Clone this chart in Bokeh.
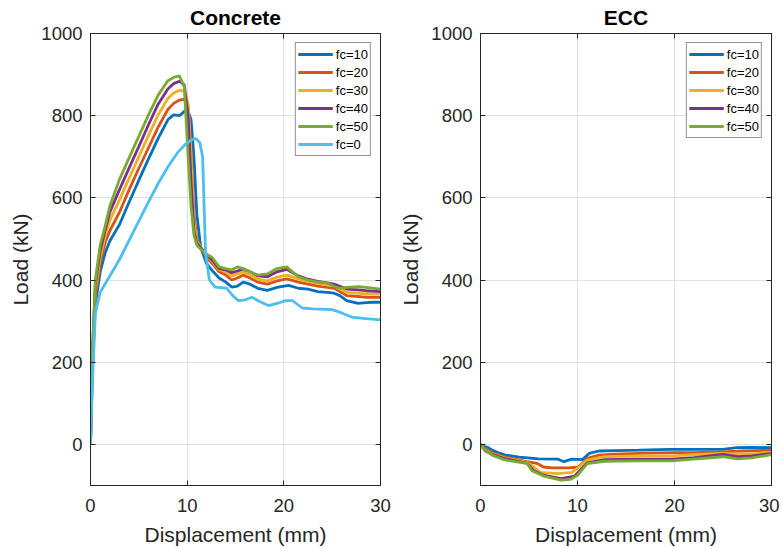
from bokeh.plotting import figure
from bokeh.layouts import row
from bokeh.models import Range1d, LinearAxis, FixedTicker, Legend
from bokeh.embed import file_html
from bokeh.resources import INLINE

# ---------------- data: Concrete ----------------
conc_labels = ["fc=10", "fc=20", "fc=30", "fc=40", "fc=50", "fc=0"]

x_c10 = [0, 0.2, 0.5, 1, 1.5, 2, 3, 4, 5, 6, 7, 8, 8.6, 9.2, 9.6, 10.0, 10.4, 10.7, 11.0, 11.4, 12.0, 12.6, 13.3, 14.0, 14.6, 15.2, 15.8, 16.5, 17.3, 18.3, 19.3, 20.5, 21.5, 22.5, 23.5, 24.5, 25.2, 25.8, 26.5, 27.7, 28.5, 29.2, 30]
y_c10 = [0, 180, 340, 420, 465, 495, 535, 590, 643, 695, 745, 790, 802, 800, 808, 818, 790, 700, 560, 480, 440, 423, 405, 395, 383, 385, 395, 390, 380, 375, 382, 387, 380, 378, 372, 370, 368, 362, 350, 343, 345, 346, 346]

x_c20 = [0, 0.2, 0.5, 1, 1.5, 2, 3, 4, 5, 6, 7, 8, 8.6, 9.2, 9.7, 10.1, 10.4, 10.7, 11.0, 11.4, 12.0, 12.6, 13.3, 14.0, 14.6, 15.2, 15.8, 16.5, 17.3, 18.3, 19.3, 20.3, 21.5, 22.5, 23.5, 24.5, 25.2, 25.8, 26.5, 27.7, 28.5, 29.2, 30]
y_c20 = [0, 200, 360, 440, 490, 520, 565, 620, 672, 722, 772, 815, 830, 838, 840, 820, 720, 560, 500, 480, 455, 440, 420, 412, 400, 405, 412, 405, 395, 390, 398, 403, 395, 390, 385, 382, 380, 372, 362, 360, 358, 358, 358]

x_c30 = [0, 0.2, 0.5, 1, 1.5, 2, 3, 4, 5, 6, 7, 8, 8.6, 9.2, 9.7, 10.1, 10.4, 10.7, 11.0, 11.4, 12.0, 12.6, 13.3, 14.0, 14.6, 15.2, 15.8, 16.5, 17.3, 18.3, 19.3, 20.3, 21.5, 22.5, 23.5, 24.5, 25.2, 25.8, 26.5, 27.7, 28.5, 29.2, 30]
y_c30 = [0, 210, 375, 455, 505, 545, 595, 648, 700, 752, 802, 842, 855, 862, 860, 830, 700, 540, 495, 480, 460, 445, 425, 420, 410, 415, 420, 412, 402, 398, 407, 412, 403, 397, 392, 388, 386, 378, 370, 368, 366, 366, 366]

x_c40 = [0, 0.2, 0.5, 1, 1.5, 2, 3, 4, 5, 6, 7, 8, 8.6, 9.2, 9.7, 10.1, 10.4, 10.7, 11.0, 11.4, 12.0, 12.6, 13.3, 14.0, 14.6, 15.2, 15.8, 16.5, 17.3, 18.3, 19.3, 20.3, 21.5, 22.5, 23.5, 24.5, 25.2, 25.8, 26.5, 27.7, 28.5, 29.2, 30]
y_c40 = [0, 220, 390, 470, 520, 565, 620, 673, 725, 778, 828, 865, 878, 884, 875, 800, 640, 520, 490, 478, 462, 448, 428, 425, 418, 422, 427, 420, 410, 408, 420, 426, 410, 402, 397, 393, 390, 385, 378, 376, 374, 373, 372]

x_c50 = [0, 0.2, 0.5, 1, 1.5, 2, 3, 4, 5, 6, 7, 8, 8.6, 9.2, 9.7, 10.1, 10.4, 10.7, 11.0, 11.4, 12.0, 12.6, 13.3, 14.0, 14.6, 15.2, 15.8, 16.5, 17.3, 18.3, 19.3, 20.3, 21.5, 22.5, 23.5, 24.5, 25.2, 25.8, 26.5, 27.7, 28.5, 29.2, 30]
y_c50 = [0, 230, 400, 485, 530, 580, 645, 698, 750, 802, 850, 885, 893, 897, 870, 700, 580, 510, 485, 475, 463, 455, 432, 428, 425, 432, 428, 420, 412, 415, 428, 432, 408, 400, 395, 393, 385, 380, 382, 384, 382, 380, 378]

x_c0 = [0, 0.2, 0.5, 1, 2, 3, 4.5, 6, 7, 8, 9, 9.8, 10.5, 10.9, 11.3, 11.6, 11.9, 12.3, 12.9, 14.1, 14.7, 15.3, 16.0, 16.7, 17.5, 18.4, 19.3, 20.2, 20.9, 21.9, 23.0, 25.0, 26.0, 27.0, 28.5, 30]
y_c0 = [0, 150, 320, 370, 410, 450, 520, 590, 635, 675, 710, 730, 742, 744, 735, 700, 465, 400, 383, 380, 362, 350, 352, 358, 348, 338, 343, 350, 350, 332, 330, 328, 320, 310, 306, 303]

# ---------------- data: ECC ----------------
ecc_labels = ["fc=10", "fc=20", "fc=30", "fc=40", "fc=50"]

x_e10 = [0, 0.4, 0.8, 1.2, 2.0, 2.6, 4.0, 6.0, 8.0, 8.6, 9.4, 10.5, 11.2, 12.2, 14, 16.3, 19.5, 22, 25, 26.4, 28, 30]
y_e10 = [0, -5, -8, -14, -22, -26, -31, -35, -36, -42, -36, -37, -22, -16, -15, -14, -12, -12, -12, -8, -7, -8]

x_e20 = [0, 0.5, 1.2, 2.4, 3.6, 4.8, 5.8, 6.5, 7.4, 9.1, 10.1, 11, 12.2, 14, 16.3, 19.7, 22, 25, 27, 30]
y_e20 = [0, -12, -20, -30, -36, -42, -46, -55, -57, -57, -55, -34, -26, -24, -22, -20, -20, -18, -16, -14]

x_e30 = [0, 0.5, 1.2, 2.4, 3.6, 4.8, 5.5, 6.2, 8, 9.4, 10, 11, 12.8, 16, 19.7, 22, 25, 27, 30]
y_e30 = [0, -14, -22, -32, -38, -44, -55, -68, -71, -68, -58, -38, -30, -28, -28, -25, -22, -24, -20]

x_e40 = [0, 0.5, 1.2, 2.4, 3.6, 4.8, 5.5, 6.5, 8.3, 9.7, 11, 12.8, 16, 19.7, 22, 25, 26.5, 28, 30]
y_e40 = [0, -16, -24, -34, -40, -46, -64, -75, -83, -77, -45, -37, -36, -36, -32, -24, -30, -28, -22]

x_e50 = [0, 0.35, 1.2, 2.4, 3.6, 4.8, 5.3, 6.5, 8.3, 9.3, 10, 11, 12.8, 16, 19.7, 22, 25, 26.5, 28, 30]
y_e50 = [0, -12, -26, -37, -42, -46, -64, -77, -87, -85, -75, -47, -41, -40, -40, -36, -30, -35, -33, -25]

x_ticks = [0, 10, 20, 30]
y_ticks = [0, 200, 400, 600, 800, 1000]

colors = ["#0072BD", "#D95319", "#EDB120", "#7E2F8E", "#77AC30", "#4DBEEE"]

FONT = "Liberation Sans"
DARK = "#262626"
GRID = "#dfdfdf"


def make_fig(title, fw, mbl, mbr):
    p = figure(frame_width=fw, frame_height=452, output_backend="svg",
               toolbar_location=None, x_range=Range1d(0, 30),
               y_range=Range1d(-100, 1000),
               min_border_left=mbl, min_border_right=mbr,
               min_border_top=33, min_border_bottom=63,
               title=title)
    p.title.text_font = FONT
    p.title.text_font_size = "21px"
    p.title.text_font_style = "bold"
    p.title.align = "center"
    p.title.text_color = "black"
    p.title.standoff = 6
    p.title.vertical_align = "top"
    p.outline_line_color = DARK
    p.outline_line_width = 1
    p.background_fill_color = "white"
    p.border_fill_color = "white"

    p.xaxis.ticker = FixedTicker(ticks=x_ticks)
    p.yaxis.ticker = FixedTicker(ticks=y_ticks)
    for ax in p.xaxis + p.yaxis:
        ax.major_tick_in = 5
        ax.major_tick_out = 0
        ax.minor_tick_line_color = None
        ax.major_tick_line_color = DARK
        ax.axis_line_color = DARK
        ax.major_label_text_font = FONT
        ax.major_label_text_font_size = "18.5px"
        ax.major_label_text_color = DARK
        ax.axis_label_text_font = FONT
        ax.axis_label_text_font_size = "21px"
        ax.axis_label_text_font_style = "normal"
        ax.axis_label_text_color = DARK
    p.xaxis.axis_label = "Displacement (mm)"
    p.yaxis.axis_label = "Load (kN)"
    p.xaxis.major_label_standoff = 13
    p.xaxis.axis_label_standoff = 8
    p.yaxis.major_label_standoff = 8
    p.yaxis.axis_label_standoff = 6

    # box ticks on top and right
    top = LinearAxis(ticker=FixedTicker(ticks=x_ticks))
    right = LinearAxis(ticker=FixedTicker(ticks=y_ticks))
    for ax in (top, right):
        ax.major_tick_in = 5
        ax.major_tick_out = 0
        ax.minor_tick_line_color = None
        ax.major_tick_line_color = DARK
        ax.axis_line_color = DARK
        ax.major_label_text_font_size = "0px"
        ax.major_label_text_color = None
        ax.major_label_standoff = 0
    p.add_layout(top, "above")
    p.add_layout(right, "right")

    p.xgrid.ticker = FixedTicker(ticks=x_ticks)
    p.ygrid.ticker = FixedTicker(ticks=y_ticks)
    p.xgrid.grid_line_color = GRID
    p.ygrid.grid_line_color = GRID
    return p


def style_legend(p, items):
    leg = Legend(items=items, location="top_right")
    leg.margin = 9
    leg.padding = 2
    leg.spacing = 0
    leg.label_height = 18
    leg.glyph_height = 18
    leg.glyph_width = 35
    leg.label_standoff = 3
    leg.label_text_font = FONT
    leg.label_text_font_size = "13px"
    leg.label_text_color = "black"
    leg.border_line_color = DARK
    leg.border_line_width = 1
    leg.background_fill_color = "white"
    leg.background_fill_alpha = 1
    p.add_layout(leg, "center")


LW = 2.8

p1 = make_fig("Concrete", 290, 90, 16)
conc_x = [x_c10, x_c20, x_c30, x_c40, x_c50, x_c0]
conc_y = [y_c10, y_c20, y_c30, y_c40, y_c50, y_c0]
items1 = []
for xs, ys, c, lab in zip(conc_x, conc_y, colors, conc_labels):
    r = p1.line(xs, ys, line_color=c, line_width=LW)
    items1.append((lab, [r]))
style_legend(p1, items1)

p2 = make_fig("ECC", 291, 78, 8)
ecc_x = [x_e10, x_e20, x_e30, x_e40, x_e50]
ecc_y = [y_e10, y_e20, y_e30, y_e40, y_e50]
items2 = []
for xs, ys, c, lab in zip(ecc_x, ecc_y, colors, ecc_labels):
    r = p2.line(xs, ys, line_color=c, line_width=LW)
    items2.append((lab, [r]))
style_legend(p2, items2)

layout = row(p1, p2)
open("out.html", "w").write(file_html(layout, INLINE))
